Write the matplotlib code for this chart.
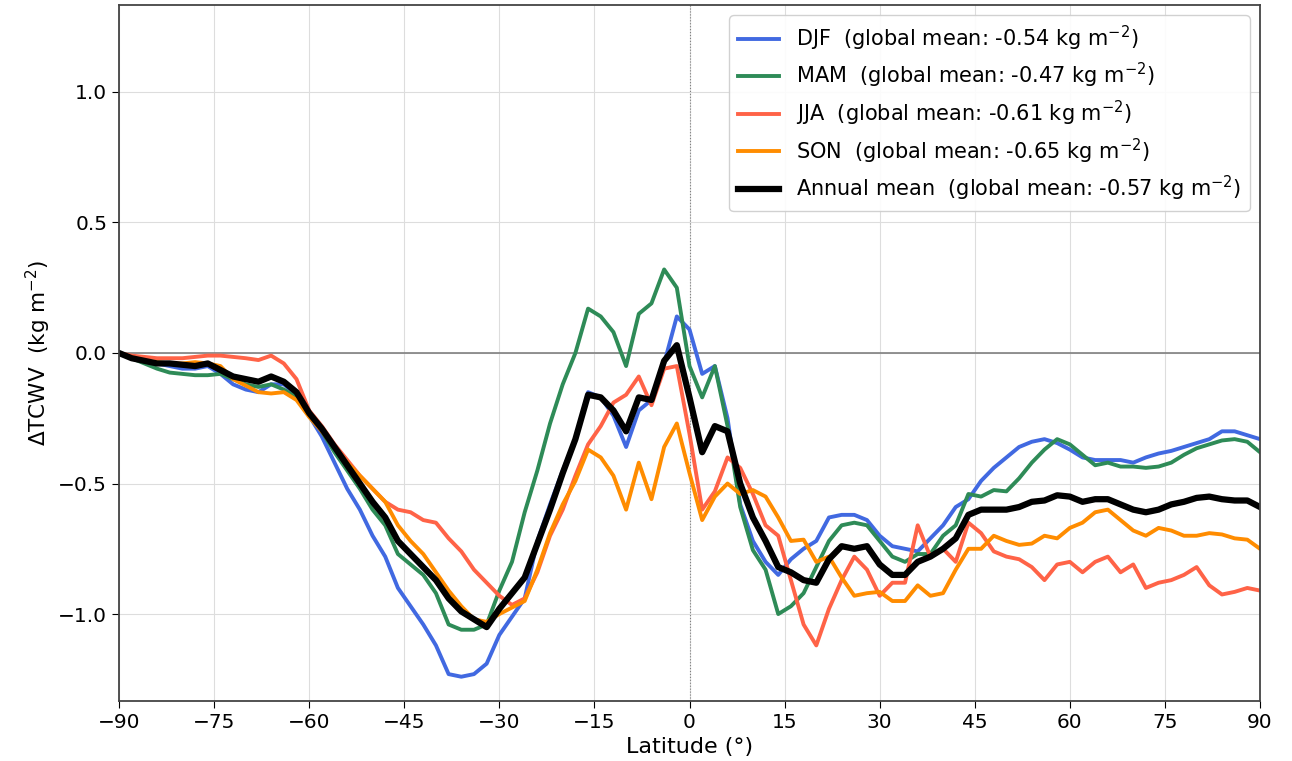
import numpy as np
import matplotlib
matplotlib.use("Agg")
import matplotlib.pyplot as plt

lat = list(range(-90, 91, 2))

djf = [0.0, -0.02, -0.03, -0.04, -0.05, -0.06, -0.06, -0.05, -0.08, -0.12,
       -0.14, -0.15, -0.12, -0.12, -0.16, -0.24, -0.32, -0.42, -0.52, -0.60,
       -0.70, -0.78, -0.90, -0.97, -1.04, -1.12, -1.23, -1.24, -1.23, -1.19,
       -1.08, -1.01, -0.94, -0.72, -0.58, -0.45, -0.33, -0.15, -0.17, -0.24,
       -0.36, -0.22, -0.18, -0.04, 0.14, 0.09, -0.08, -0.05, -0.25, -0.58,
       -0.72, -0.80, -0.85, -0.79, -0.75, -0.72, -0.63, -0.62, -0.62, -0.64,
       -0.70, -0.74, -0.75, -0.76, -0.71, -0.66, -0.59, -0.56, -0.49, -0.44,
       -0.40, -0.36, -0.34, -0.33, -0.345, -0.37, -0.40, -0.41, -0.41, -0.41,
       -0.42, -0.40, -0.385, -0.375, -0.36, -0.345, -0.33, -0.30, -0.30, -0.315,
       -0.33]

mam = [0.0, -0.02, -0.04, -0.06, -0.075, -0.08, -0.085, -0.085, -0.08, -0.10,
       -0.12, -0.13, -0.12, -0.14, -0.17, -0.23, -0.30, -0.38, -0.45, -0.52,
       -0.60, -0.66, -0.77, -0.81, -0.85, -0.92, -1.04, -1.06, -1.06, -1.04,
       -0.91, -0.80, -0.61, -0.45, -0.27, -0.12, 0.0, 0.17, 0.14, 0.08,
       -0.05, 0.15, 0.19, 0.32, 0.25, -0.05, -0.17, -0.05, -0.28, -0.59,
       -0.755, -0.83, -1.00, -0.97, -0.92, -0.82, -0.72, -0.66, -0.65, -0.66,
       -0.72, -0.78, -0.80, -0.77, -0.77, -0.70, -0.66, -0.54, -0.55, -0.525,
       -0.53, -0.48, -0.42, -0.37, -0.33, -0.35, -0.39, -0.43, -0.42, -0.435,
       -0.435, -0.44, -0.435, -0.42, -0.39, -0.365, -0.35, -0.335, -0.33, -0.34,
       -0.38]

jja = [0.0, -0.01, -0.015, -0.02, -0.02, -0.02, -0.015, -0.01, -0.01, -0.015,
       -0.02, -0.027, -0.01, -0.04, -0.10, -0.22, -0.28, -0.35, -0.41, -0.47,
       -0.52, -0.57, -0.60, -0.61, -0.64, -0.65, -0.71, -0.76, -0.83, -0.88,
       -0.93, -0.965, -0.94, -0.84, -0.70, -0.60, -0.47, -0.35, -0.28, -0.19,
       -0.16, -0.09, -0.20, -0.06, -0.05, -0.31, -0.60, -0.53, -0.40, -0.44,
       -0.54, -0.66, -0.70, -0.87, -1.04, -1.12, -0.98, -0.87, -0.78, -0.83,
       -0.93, -0.88, -0.88, -0.66, -0.78, -0.75, -0.80, -0.65, -0.69, -0.76,
       -0.78, -0.79, -0.82, -0.87, -0.81, -0.80, -0.84, -0.80, -0.78, -0.84,
       -0.81, -0.90, -0.88, -0.87, -0.85, -0.82, -0.89, -0.925, -0.915, -0.90,
       -0.91]

son = [0.0, -0.02, -0.03, -0.035, -0.04, -0.04, -0.035, -0.04, -0.05, -0.10,
       -0.125, -0.15, -0.155, -0.15, -0.18, -0.245, -0.30, -0.36, -0.42, -0.47,
       -0.52, -0.57, -0.66, -0.72, -0.77, -0.84, -0.91, -0.97, -1.02, -1.03,
       -1.00, -0.975, -0.95, -0.83, -0.69, -0.58, -0.49, -0.37, -0.40, -0.47,
       -0.60, -0.42, -0.56, -0.36, -0.27, -0.46, -0.64, -0.55, -0.50, -0.54,
       -0.525, -0.55, -0.63, -0.72, -0.715, -0.80, -0.78, -0.86, -0.93, -0.92,
       -0.915, -0.95, -0.95, -0.89, -0.93, -0.92, -0.83, -0.75, -0.75, -0.70,
       -0.72, -0.735, -0.73, -0.70, -0.71, -0.67, -0.65, -0.61, -0.60, -0.64,
       -0.68, -0.70, -0.67, -0.68, -0.70, -0.70, -0.69, -0.695, -0.71, -0.715,
       -0.75]

annual = [0.0, -0.02, -0.03, -0.04, -0.04, -0.045, -0.05, -0.04, -0.065, -0.09,
          -0.10, -0.11, -0.09, -0.11, -0.15, -0.23, -0.29, -0.36, -0.43, -0.50,
          -0.57, -0.63, -0.72, -0.77, -0.82, -0.87, -0.94, -0.99, -1.02, -1.05,
          -0.98, -0.92, -0.86, -0.73, -0.60, -0.46, -0.33, -0.16, -0.17, -0.22,
          -0.30, -0.17, -0.18, -0.03, 0.03, -0.17, -0.38, -0.28, -0.30, -0.50,
          -0.63, -0.72, -0.82, -0.84, -0.87, -0.88, -0.79, -0.74, -0.75, -0.74,
          -0.81, -0.85, -0.85, -0.80, -0.78, -0.75, -0.71, -0.62, -0.60, -0.60,
          -0.60, -0.59, -0.57, -0.565, -0.545, -0.55, -0.57, -0.56, -0.56, -0.58,
          -0.60, -0.61, -0.60, -0.58, -0.57, -0.555, -0.55, -0.56, -0.565, -0.565,
          -0.59]

labels = [
    "DJF  (global mean: -0.54 kg m$^{-2}$)",
    "MAM  (global mean: -0.47 kg m$^{-2}$)",
    "JJA  (global mean: -0.61 kg m$^{-2}$)",
    "SON  (global mean: -0.65 kg m$^{-2}$)",
    "Annual mean  (global mean: -0.57 kg m$^{-2}$)",
]
colors = ["royalblue", "seagreen", "tomato", "darkorange", "black"]
xticks = list(range(-90, 91, 15))

fig = plt.figure(figsize=(12.92, 7.61), dpi=100)
ax = fig.add_axes([119 / 1292, 1 - 701 / 761, (1260 - 119) / 1292, (701 - 5) / 761])

ax.grid(True, color="#dddddd", linewidth=0.8)
ax.set_axisbelow(True)
ax.axhline(0, color="gray", linewidth=1.2, zorder=1)
ax.axvline(0, color="gray", linewidth=0.8, linestyle=":", zorder=1)

for series, c, lab in zip([djf, mam, jja, son], colors[:4], labels[:4]):
    ax.plot(lat, series, color=c, linewidth=2.8, label=lab)
ax.plot(lat, annual, color="black", linewidth=4.5, label=labels[4])

ax.set_xlim(-90, 90)
ax.set_ylim(-1.333, 1.333)
ax.set_xticks(xticks)
ax.set_yticks([-1.0, -0.5, 0.0, 0.5, 1.0])
ax.tick_params(labelsize=14.5, length=5)
ax.set_xlabel("Latitude (°)", fontsize=16)
ax.set_ylabel("ΔTCWV  (kg m$^{-2}$)", fontsize=15.5)
for s in ax.spines.values():
    s.set_color("#444444")
    s.set_linewidth(1.3)

ax.set_title("Zonal-mean change in total column water vapour by season: perturbed minus control experiment (kg m$^{-2}$)",
             fontsize=16)

ax.legend(loc="upper right", fontsize=15, framealpha=0.9, borderaxespad=0.5,
          labelspacing=0.4)

fig.savefig("out.png", dpi=100)
